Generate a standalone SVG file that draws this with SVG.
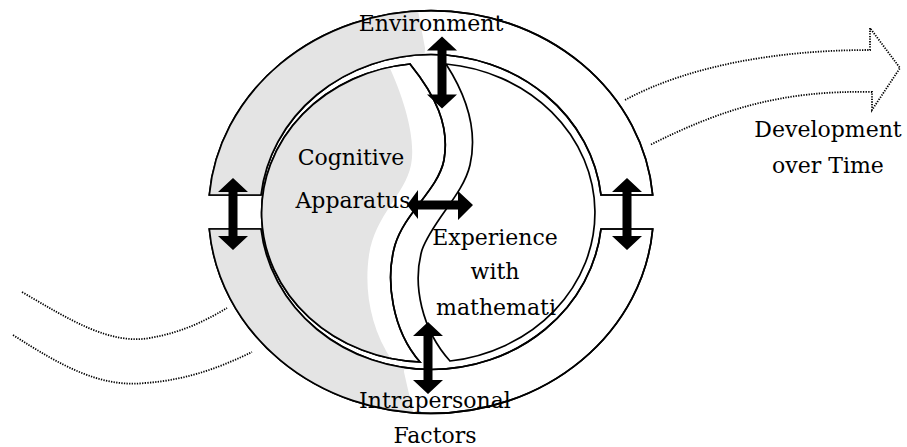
<svg xmlns="http://www.w3.org/2000/svg" width="907" height="447" viewBox="0 0 907 447">
<style>
.ln{fill:none;stroke:#000;stroke-width:1.7}
.shape{fill:#fff;stroke:#000;stroke-width:1.7}
.gray{fill:#e4e4e4}
.dot{fill:none;stroke:#000;stroke-width:1.8;stroke-dasharray:1.3 1.3}
.arr{fill:#000}
text{font-family:"DejaVu Serif","Liberation Serif",serif;font-size:22px;fill:#000;text-anchor:middle}
</style>
<defs>
<path id="bandTop" d="M209.3,195 A222.5,201.5 0 0 1 652.7,195 L601,195 A171,157.5 0 0 0 261,195 Z"/>
<path id="bandBot" d="M209.3,229 A222.5,201.5 0 0 0 652.7,229 L601,229 A171,157.5 0 0 1 261,229 Z"/>
<path id="leftHalf" d="M410,64 C435,95 450,125 444,160 C438,190 405,212 395,245 C385,280 392,330 420,362 A166,149.5 0 0 1 410,64 Z"/>
<path id="rightHalf" d="M446,64 C466,95 478,130 470,165 C463,195 433,220 422,250 C412,285 422,330 450,361 A166,149.5 0 0 0 446,64 Z"/>
<clipPath id="clipBand"><use href="#bandTop"/><use href="#bandBot"/></clipPath>
<clipPath id="clipLeft"><use href="#leftHalf"/></clipPath>
<path id="vArrow" d="M0,-36 L15,-22 L4.5,-22 L4.5,22 L15,22 L0,36 L-15,22 L-4.5,22 L-4.5,-22 L-15,-22 Z"/>
</defs>

<g id="connectors">
<path id="development-arrow" class="dot" d="M625,100 C690,65 780,50 870,50 L870,28 L900,68 L872,110 L872,92 C780,90 720,110 650,145"/>
<path class="dot" d="M22,292 C70,320 110,345 150,338 C185,332 210,318 227,308"/>
<path class="dot" d="M13,335 C60,365 100,388 145,383 C190,380 225,365 252,352"/>
</g>

<g id="environment-band">
<use href="#bandTop" class="shape"/>
<use href="#bandBot" class="shape"/>
<path class="gray" clip-path="url(#clipBand)" d="M0,0 H416 L425,48 L404,372 L421,447 H0 Z"/>
<use href="#bandTop" class="ln"/>
<use href="#bandBot" class="ln"/>
</g>

<g id="cognitive-apparatus">
<use href="#leftHalf" class="shape"/>
<path class="gray" clip-path="url(#clipLeft)" d="M0,0 L385,0 L388,64 C405,100 416,140 411,165 C405,195 375,215 369,255 C364,290 370,330 395,365 L395,447 L0,447 Z"/>
<use href="#leftHalf" class="ln"/>
</g>

<g id="experience">
<use href="#rightHalf" class="shape"/>
</g>

<g id="labels">
<text x="431" y="31">Environment</text>
<text x="351" y="165">Cognitive</text>
<text x="353" y="208">Apparatus</text>
<text x="495" y="245">Experience</text>
<text x="495" y="279">with</text>
<text x="496" y="315">mathemati</text>
<text x="435" y="408">Intrapersonal</text>
<text x="435" y="443">Factors</text>
<text x="828" y="137">Development</text>
<text x="828" y="173">over Time</text>
</g>

<g id="arrows">
<use href="#vArrow" class="arr" transform="translate(442,72.5)"/>
<use href="#vArrow" class="arr" transform="translate(428,358)"/>
<use href="#vArrow" class="arr" transform="translate(233,214)"/>
<use href="#vArrow" class="arr" transform="translate(627,214)"/>
<path class="arr" d="M407,205 L418,190 L418,200.5 L458,200.5 L458,191 L473,205 L458,220 L458,209.5 L418,209.5 L418,219 Z"/>
</g>
</svg>
